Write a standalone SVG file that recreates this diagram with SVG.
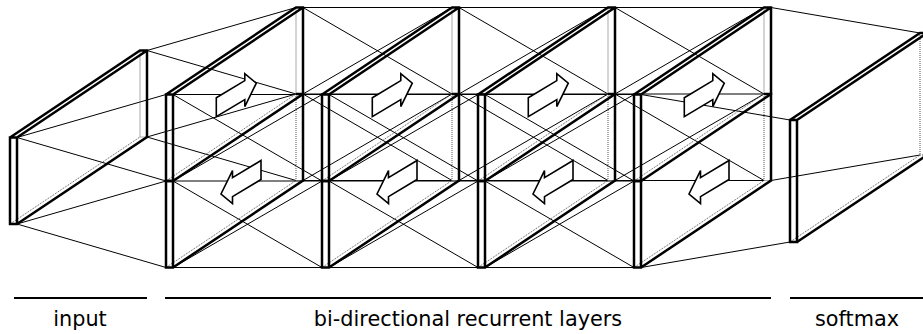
<svg xmlns="http://www.w3.org/2000/svg" width="923" height="334" viewBox="0 0 923 334">
<style>
.bg{fill:#fff}
.thick{fill:none;stroke:#000;stroke-width:2.5;stroke-linejoin:miter}
.hid{fill:none;stroke:#555;stroke-width:1;stroke-dasharray:1 1}
.con{fill:none;stroke:#000;stroke-width:1}
.arrow{fill:#fff;stroke:#000;stroke-width:1.6;stroke-linejoin:miter}
.rule{stroke:#000;stroke-width:2}
.lbl{font-family:"DejaVu Sans",Verdana,sans-serif;font-size:20.8px;fill:#000;text-anchor:middle}
</style>
<rect class="bg" x="0" y="0" width="923" height="334"/>
<g id="connectors">
  <path class="con" d="M17,137.5L166,94.5 M17,137.5L166,181 M17,224L166,181 M17,224L166,267.5"/>
  <path class="con" d="M147,50.5L296,7.5 M147,50.5L296,94 M147,137L296,94 M147,137L296,180.5"/>
  <path class="con" d="M173,94.5H322 M173,94.5L322,181 M173,181L322,94.5 M173,181H322 M173,181L322,267.5 M173,267.5L322,181 M173,267.5H322"/>
  <path class="con" d="M303,7.5H452 M303,7.5L452,94 M303,94L452,7.5 M303,94H452 M303,94L452,180.5 M303,180.5L452,94 M303,180.5H452"/>
  <path class="con" d="M329,94.5H478 M329,94.5L478,181 M329,181L478,94.5 M329,181H478 M329,181L478,267.5 M329,267.5L478,181 M329,267.5H478"/>
  <path class="con" d="M459,7.5H608 M459,7.5L608,94 M459,94L608,7.5 M459,94H608 M459,94L608,180.5 M459,180.5L608,94 M459,180.5H608"/>
  <path class="con" d="M485,94.5H634 M485,94.5L634,181 M485,181L634,94.5 M485,181H634 M485,181L634,267.5 M485,267.5L634,181 M485,267.5H634"/>
  <path class="con" d="M615,7.5H764 M615,7.5L764,94 M615,94L764,7.5 M615,94H764 M615,94L764,180.5 M615,180.5L764,94 M615,180.5H764"/>
  <path class="con" d="M641,94.5L790,120 M641,267.5L790,242"/>
  <path class="con" d="M771,7.5L920,33 M771,180.5L920,155"/>
</g>
<g id="input">
  <path class="hid" d="M140,50.5v86.5h7 M10,224l130,-87"/>
  <path class="thick" d="M10,137.5h7v86.5h-7z M10,137.5l130,-87h7v86.5l-130,87 M17,137.5l130,-87"/>
</g>
<g id="layer1">
  <path class="hid" d="M296,7.5v86.5h7 M166,181l130,-87"/>
  <path class="hid" d="M296,94v86.5h7 M166,267.5l130,-87"/>
  <path class="thick" d="M166,94.5h7v86.5h-7z M166,94.5l130,-87h7v86.5l-130,87 M173,94.5l130,-87"/>
  <path class="thick" d="M166,181h7v86.5h-7z M296,94h7v86.5l-130,87"/>
  <path class="arrow" d="M216.3,97.7L244.8,80.6L244.8,73.6L256.3,83.2L244.8,106.6L244.8,99.6L216.3,116.7Z"/>
  <path class="arrow" d="M261,179.5L232.5,196.6L232.5,203.6L221,194L232.5,170.6L232.5,177.6L261,160.5Z"/>
</g>
<g id="layer2" transform="translate(156,0)">
  <path class="hid" d="M296,7.5v86.5h7 M166,181l130,-87"/>
  <path class="hid" d="M296,94v86.5h7 M166,267.5l130,-87"/>
  <path class="thick" d="M166,94.5h7v86.5h-7z M166,94.5l130,-87h7v86.5l-130,87 M173,94.5l130,-87"/>
  <path class="thick" d="M166,181h7v86.5h-7z M296,94h7v86.5l-130,87"/>
  <path class="arrow" d="M216.3,97.7L244.8,80.6L244.8,73.6L256.3,83.2L244.8,106.6L244.8,99.6L216.3,116.7Z"/>
  <path class="arrow" d="M261,179.5L232.5,196.6L232.5,203.6L221,194L232.5,170.6L232.5,177.6L261,160.5Z"/>
</g>
<g id="layer3" transform="translate(312,0)">
  <path class="hid" d="M296,7.5v86.5h7 M166,181l130,-87"/>
  <path class="hid" d="M296,94v86.5h7 M166,267.5l130,-87"/>
  <path class="thick" d="M166,94.5h7v86.5h-7z M166,94.5l130,-87h7v86.5l-130,87 M173,94.5l130,-87"/>
  <path class="thick" d="M166,181h7v86.5h-7z M296,94h7v86.5l-130,87"/>
  <path class="arrow" d="M216.3,97.7L244.8,80.6L244.8,73.6L256.3,83.2L244.8,106.6L244.8,99.6L216.3,116.7Z"/>
  <path class="arrow" d="M261,179.5L232.5,196.6L232.5,203.6L221,194L232.5,170.6L232.5,177.6L261,160.5Z"/>
</g>
<g id="layer4" transform="translate(468,0)">
  <path class="hid" d="M296,7.5v86.5h7 M166,181l130,-87"/>
  <path class="hid" d="M296,94v86.5h7 M166,267.5l130,-87"/>
  <path class="thick" d="M166,94.5h7v86.5h-7z M166,94.5l130,-87h7v86.5l-130,87 M173,94.5l130,-87"/>
  <path class="thick" d="M166,181h7v86.5h-7z M296,94h7v86.5l-130,87"/>
  <path class="arrow" d="M216.3,97.7L244.8,80.6L244.8,73.6L256.3,83.2L244.8,106.6L244.8,99.6L216.3,116.7Z"/>
  <path class="arrow" d="M261,179.5L232.5,196.6L232.5,203.6L221,194L232.5,170.6L232.5,177.6L261,160.5Z"/>
</g>
<g id="softmax">
  <path class="hid" d="M920,33v122h7 M790,242l130,-87"/>
  <path class="thick" d="M790,120h7v122h-7z M790,120l130,-87h7v122l-130,87 M797,120l130,-87"/>
</g>
<g id="labels">
  <line class="rule" x1="14" y1="298" x2="147" y2="298"/>
  <line class="rule" x1="165" y1="298" x2="771" y2="298"/>
  <line class="rule" x1="790" y1="298" x2="923" y2="298"/>
  <text class="lbl" x="80" y="326">input</text>
  <text class="lbl" x="468" y="326">bi-directional recurrent layers</text>
  <text class="lbl" x="857" y="326">softmax</text>
</g>
</svg>
